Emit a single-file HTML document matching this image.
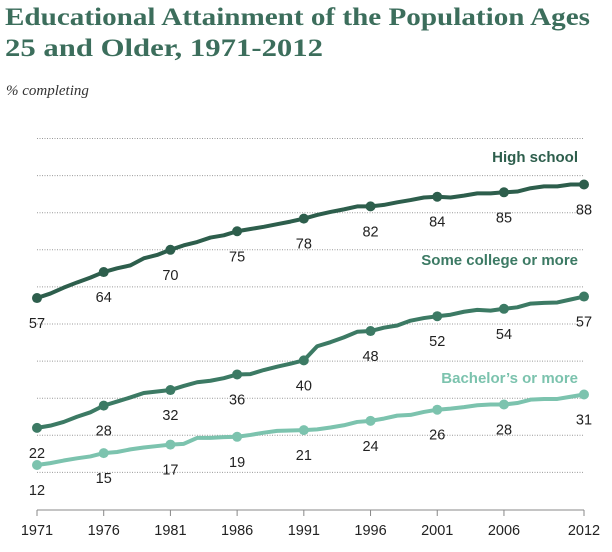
<!DOCTYPE html>
<html><head><meta charset="utf-8">
<style>
body{margin:0;background:#fff;width:612px;height:547px;overflow:hidden;font-family:"Liberation Sans",sans-serif}
</style></head>
<body>
<svg width="612" height="547">
<text x="5" y="25" font-family="Liberation Serif, serif" font-size="25" font-weight="bold" fill="#3c6e5c" textLength="585" lengthAdjust="spacingAndGlyphs">Educational Attainment of the Population Ages</text>
<text x="5" y="56" font-family="Liberation Serif, serif" font-size="25" font-weight="bold" fill="#3c6e5c" textLength="318" lengthAdjust="spacingAndGlyphs">25 and Older, 1971-2012</text>
<text x="6" y="95" font-family="Liberation Serif, serif" font-size="15" font-style="italic" fill="#333">% completing</text>
<g id="plot"></g>
</svg>
<script>
const years=[];for(let y=1971;y<=2012;y++)years.push(y);
const highSchool=[57,58.2,59.8,61.2,62.5,64,65,65.8,67.7,68.6,70,71.2,72.1,73.3,73.9,75,75.6,76.2,76.9,77.6,78.4,79.4,80.2,80.9,81.7,81.7,82.1,82.8,83.4,84.1,84.3,84.1,84.6,85.2,85.2,85.5,85.7,86.6,87.1,87.1,87.6,87.6];
const someCollege=[22,22.6,23.6,25,26.2,28,29.1,30.2,31.4,31.8,32.2,33.3,34.3,34.7,35.4,36.4,36.5,37.6,38.5,39.3,40.2,44,45.1,46.4,47.9,48.1,49,49.6,50.9,51.6,52.1,52.5,53.3,53.8,53.6,54.1,54.5,55.5,55.7,55.8,56.6,57.4];
const bachelors=[12,12.5,13.2,13.8,14.3,15.2,15.5,16.2,16.7,17.1,17.5,17.7,19.3,19.3,19.5,19.6,20.1,20.7,21.2,21.3,21.4,21.6,22.1,22.7,23.6,23.9,24.5,25.3,25.5,26.3,26.9,27.2,27.6,28.1,28.3,28.3,28.7,29.6,29.8,29.8,30.4,31];
const labelYears=[1971,1976,1981,1986,1991,1996,2001,2006,2012];
const hsLabels=[57,64,70,75,78,82,84,85,88];
const scLabels=[22,28,32,36,40,48,52,54,57];
const baLabels=[12,15,17,19,21,24,26,28,31];
const gridValues=[10,20,30,40,50,60,70,80,90,100];
const xTicks=[1971,1976,1981,1986,1991,1996,2001,2006,2012];

const X=y=>37+(y-1971)*(584-37)/41;
const Y=v=>509.5-3.71*v;
const g=document.getElementById('plot');
const NS='http://www.w3.org/2000/svg';
function mk(t,a){const e=document.createElementNS(NS,t);for(const k in a)e.setAttribute(k,a[k]);g.appendChild(e);return e;}

gridValues.forEach(v=>{
  const l=mk('line',{x1:37,x2:584,y1:Y(v),y2:Y(v),stroke:'#999','stroke-width':1,'stroke-dasharray':'1,1.5'});
  
  
});
const ax=mk('line',{x1:37,x2:584,y1:510,y2:510,stroke:'#888','stroke-width':1});


xTicks.forEach(yr=>{
  const t=mk('line',{x1:X(yr),x2:X(yr),y1:510,y2:516,stroke:'#888'});
  
  
  const tx=mk('text',{x:X(yr),y:535,'text-anchor':'middle','font-size':14.5,fill:'#222'});
  tx.textContent=yr;
  
  
});

function series(vals,labels,color,name,title,titleY){
  const p=mk('polyline',{points:vals.map((v,i)=>X(years[i])+','+Y(v)).join(' '),fill:'none',stroke:color,'stroke-width':4,'stroke-linejoin':'round','stroke-linecap':'round'});
  
  
  labelYears.forEach((yr,k)=>{
    const v=vals[yr-1971];
    const c=mk('circle',{cx:X(yr),cy:Y(v),r:5,fill:color});
    
    
    const t=mk('text',{x:X(yr),y:Y(v)+30,'text-anchor':'middle','font-size':14.5,fill:'#222'});
    t.textContent=labels[k];
    
    
  });
  const tt=mk('text',{x:578,y:titleY,'text-anchor':'end','font-size':15,'font-weight':'bold',fill:color});
  tt.textContent=title;
  
  
}
series(highSchool,hsLabels,'#2d5e4c','high-school','High school',162);
series(someCollege,scLabels,'#3c7a64','some-college','Some college or more',265);
series(bachelors,baLabels,'#7cc3ae','bachelors','Bachelor\u2019s or more',383);
</script>
</body></html>
